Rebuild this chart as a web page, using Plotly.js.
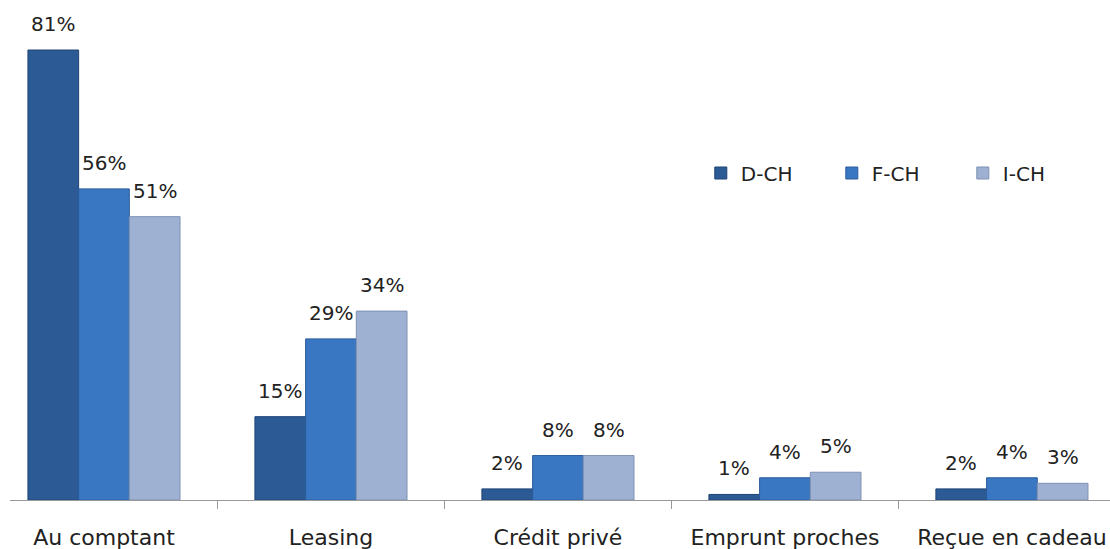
<!DOCTYPE html>
<html>
<head>
<meta charset="utf-8">
<script src="https://cdn.plot.ly/plotly-3.0.1.min.js"></script>
<style>
  html, body { margin: 0; padding: 0; background: #fff; }
  #plot { width: 1110px; height: 549px; }
</style>
</head>
<body>
<div id="plot"></div>
<script>
const categories = ["Au comptant", "Leasing", "Crédit privé", "Emprunt proches", "Reçue en cadeau"];
const seriesNames = ["D-CH", "F-CH", "I-CH"];
const dch = [81, 15, 2, 1, 2];
const fch = [56, 29, 8, 4, 4];
const ich = [51, 34, 8, 5, 3];

const fillColors = ["#2c5a95", "#3a77c2", "#9eb1d3"];
const edgeColors = ["#1f4477", "#2a5c9c", "#7f91b2"];

const values = [dch, fch, ich];
const bargap = 0.33;
const barWidth = (1 - bargap) / 3;

const traces = values.map((vals, j) => ({
  type: "bar",
  name: seriesNames[j],
  x: categories,
  y: vals,
  marker: { color: fillColors[j], line: { color: edgeColors[j], width: 1 } },
  hoverinfo: "x+y+name"
}));

// percentage labels above each bar
const annotations = [];
values.forEach((vals, j) => {
  vals.forEach((v, i) => {
    annotations.push({
      x: i + (j - 1) * barWidth,
      y: v,
      xref: "x",
      yref: "y",
      text: v + "%",
      showarrow: false,
      yanchor: "bottom",
      yshift: 12,
      font: { family: "DejaVu Sans", size: 20, color: "#222" }
    });
  });
});

const layout = {
  width: 1110,
  height: 549,
  margin: { l: 10, r: 0, t: 0, b: 49 },
  paper_bgcolor: "#fff",
  plot_bgcolor: "#fff",
  barmode: "group",
  bargap: bargap,
  bargroupgap: 0,
  showlegend: true,
  legend: {
    orientation: "h",
    x: 0.628,
    y: 0.654,
    xanchor: "left",
    yanchor: "middle",
    entrywidth: 86,
    entrywidthmode: "pixels",
    font: { family: "DejaVu Sans", size: 20, color: "#222" },
    bgcolor: "rgba(0,0,0,0)"
  },
  xaxis: {
    type: "category",
    range: [-0.414, 4.432],
    tickson: "boundaries",
    ticks: "outside",
    ticklen: 8,
    tickcolor: "#999",
    showline: true,
    linecolor: "#999",
    linewidth: 1,
    showgrid: false,
    zeroline: false,
    ticklabelstandoff: 18,
    tickfont: { family: "DejaVu Sans", size: 22, color: "#222" },
    fixedrange: true
  },
  yaxis: {
    range: [0, 90],
    visible: false,
    showgrid: false,
    zeroline: false,
    fixedrange: true
  },
  annotations: annotations
};

Plotly.newPlot("plot", traces, layout, { displayModeBar: false, staticPlot: true });
</script>
</body>
</html>
